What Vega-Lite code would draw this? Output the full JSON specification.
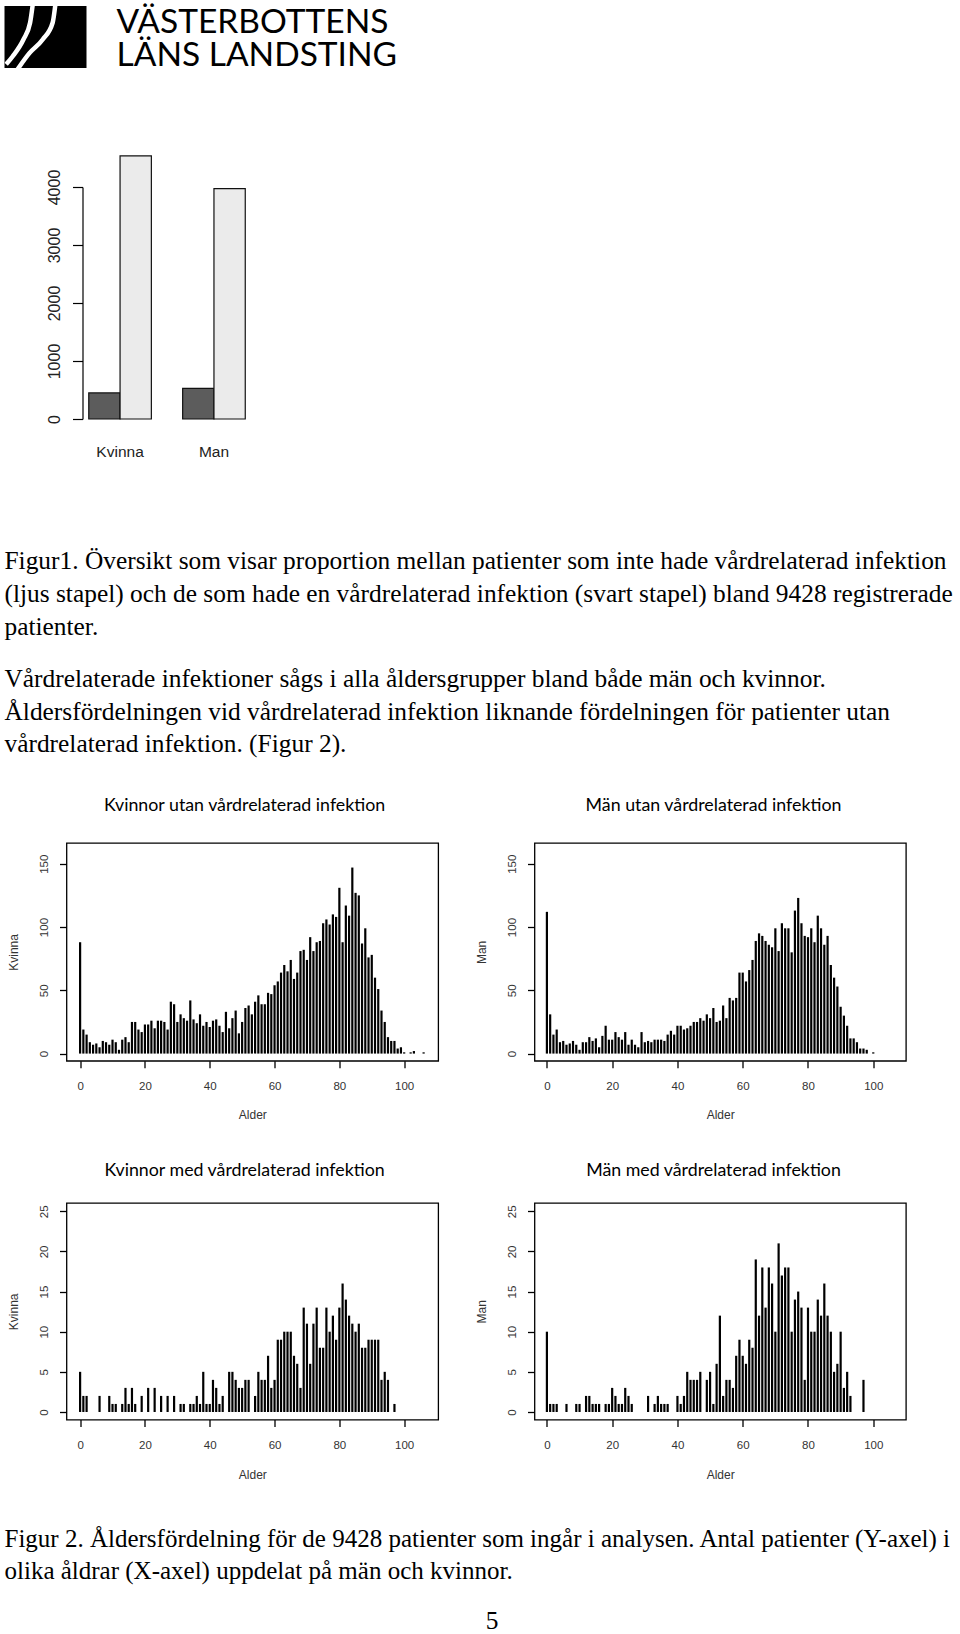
{
  "$schema": "https://vega.github.io/schema/vega-lite/v6.json",
  "background": "white",
  "padding": {"left": 4.5, "top": 5, "right": 0, "bottom": 0},
  "config": {
    "view": {"stroke": null},
    "axis": {"grid": false, "labelFont": "Liberation Sans", "titleFont": "Liberation Sans", "labelFlush": false, "labelOverlap": false, "tickColor": "black", "domainColor": "black", "titleFontWeight": "normal"},
    "title": {"font": "Lato", "fontSize": 17.8, "fontWeight": "normal", "color": "black", "frame": "group", "anchor": "middle"}
  },
  "datasets": {
    "staplar": [
      {"kon": "Kvinna", "grupp": "med", "antal": 449},
      {"kon": "Kvinna", "grupp": "utan", "antal": 4535},
      {"kon": "Man", "grupp": "med", "antal": 529},
      {"kon": "Man", "grupp": "utan", "antal": 3972}
    ],
    "logo": [
      {"kurva": "a", "u": 0.344, "v": 1.02}, {"kurva": "a", "u": 0.312, "v": 0.73}, {"kurva": "a", "u": 0.231, "v": 0.46}, {"kurva": "a", "u": 0.101, "v": 0.19}, {"kurva": "a", "u": 0.02, "v": 0.06},
      {"kurva": "b", "u": 0.62, "v": 1.02}, {"kurva": "b", "u": 0.587, "v": 0.73}, {"kurva": "b", "u": 0.466, "v": 0.46}, {"kurva": "b", "u": 0.304, "v": 0.24}, {"kurva": "b", "u": 0.16, "v": -0.02}
    ],
    "kvinnor_utan": [
      {"alder":0,"antal":88},{"alder":1,"antal":19},{"alder":2,"antal":15},{"alder":3,"antal":9},{"alder":4,"antal":7},{"alder":5,"antal":8},{"alder":6,"antal":5},{"alder":7,"antal":10},{"alder":8,"antal":9},{"alder":9,"antal":7},
      {"alder":10,"antal":11},{"alder":11,"antal":9},{"alder":12,"antal":3},{"alder":13,"antal":11},{"alder":14,"antal":13},{"alder":15,"antal":9},{"alder":16,"antal":25},{"alder":17,"antal":25},{"alder":18,"antal":19},{"alder":19,"antal":17},
      {"alder":20,"antal":23},{"alder":21,"antal":23},{"alder":22,"antal":26},{"alder":23,"antal":20},{"alder":24,"antal":26},{"alder":25,"antal":26},{"alder":26,"antal":25},{"alder":27,"antal":19},{"alder":28,"antal":41},{"alder":29,"antal":39},
      {"alder":30,"antal":25},{"alder":31,"antal":31},{"alder":32,"antal":28},{"alder":33,"antal":26},{"alder":34,"antal":42},{"alder":35,"antal":27},{"alder":36,"antal":24},{"alder":37,"antal":31},{"alder":38,"antal":22},{"alder":39,"antal":25},
      {"alder":40,"antal":21},{"alder":41,"antal":26},{"alder":42,"antal":27},{"alder":43,"antal":22},{"alder":44,"antal":17},{"alder":45,"antal":33},{"alder":46,"antal":20},{"alder":47,"antal":28},{"alder":48,"antal":34},{"alder":49,"antal":16},
      {"alder":50,"antal":25},{"alder":51,"antal":36},{"alder":52,"antal":38},{"alder":53,"antal":31},{"alder":54,"antal":41},{"alder":55,"antal":46},{"alder":56,"antal":39},{"alder":57,"antal":39},{"alder":58,"antal":48},{"alder":59,"antal":47},
      {"alder":60,"antal":54},{"alder":61,"antal":57},{"alder":62,"antal":64},{"alder":63,"antal":70},{"alder":64,"antal":65},{"alder":65,"antal":74},{"alder":66,"antal":59},{"alder":67,"antal":64},{"alder":68,"antal":81},{"alder":69,"antal":82},
      {"alder":70,"antal":74},{"alder":71,"antal":92},{"alder":72,"antal":81},{"alder":73,"antal":88},{"alder":74,"antal":89},{"alder":75,"antal":103},{"alder":76,"antal":106},{"alder":77,"antal":102},{"alder":78,"antal":110},{"alder":79,"antal":108},
      {"alder":80,"antal":131},{"alder":81,"antal":88},{"alder":82,"antal":117},{"alder":83,"antal":109},{"alder":84,"antal":147},{"alder":85,"antal":127},{"alder":86,"antal":125},{"alder":87,"antal":87},{"alder":88,"antal":99},{"alder":89,"antal":76},
      {"alder":90,"antal":78},{"alder":91,"antal":60},{"alder":92,"antal":51},{"alder":93,"antal":34},{"alder":94,"antal":25},{"alder":95,"antal":13},{"alder":96,"antal":10},{"alder":97,"antal":10},{"alder":98,"antal":4},{"alder":99,"antal":5},
      {"alder":100,"antal":1},{"alder":102,"antal":1},{"alder":103,"antal":2},{"alder":106,"antal":1}
    ],
    "man_utan": [
      {"alder":0,"antal":112},{"alder":1,"antal":31},{"alder":2,"antal":15},{"alder":3,"antal":19},{"alder":4,"antal":9},{"alder":5,"antal":10},{"alder":6,"antal":7},{"alder":7,"antal":8},{"alder":8,"antal":10},{"alder":9,"antal":7},
      {"alder":10,"antal":3},{"alder":11,"antal":9},{"alder":12,"antal":9},{"alder":13,"antal":13},{"alder":14,"antal":10},{"alder":15,"antal":12},{"alder":16,"antal":5},{"alder":17,"antal":14},{"alder":18,"antal":22},{"alder":19,"antal":11},
      {"alder":20,"antal":11},{"alder":21,"antal":17},{"alder":22,"antal":13},{"alder":23,"antal":11},{"alder":24,"antal":17},{"alder":25,"antal":7},{"alder":26,"antal":11},{"alder":27,"antal":7},{"alder":28,"antal":5},{"alder":29,"antal":17},
      {"alder":30,"antal":9},{"alder":31,"antal":10},{"alder":32,"antal":9},{"alder":33,"antal":11},{"alder":34,"antal":11},{"alder":35,"antal":11},{"alder":36,"antal":10},{"alder":37,"antal":15},{"alder":38,"antal":18},{"alder":39,"antal":15},
      {"alder":40,"antal":22},{"alder":41,"antal":22},{"alder":42,"antal":19},{"alder":43,"antal":20},{"alder":44,"antal":22},{"alder":45,"antal":25},{"alder":46,"antal":25},{"alder":47,"antal":28},{"alder":48,"antal":26},{"alder":49,"antal":31},
      {"alder":50,"antal":28},{"alder":51,"antal":36},{"alder":52,"antal":25},{"alder":53,"antal":26},{"alder":54,"antal":38},{"alder":55,"antal":28},{"alder":56,"antal":44},{"alder":57,"antal":42},{"alder":58,"antal":44},{"alder":59,"antal":64},
      {"alder":60,"antal":64},{"alder":61,"antal":57},{"alder":62,"antal":66},{"alder":63,"antal":74},{"alder":64,"antal":89},{"alder":65,"antal":95},{"alder":66,"antal":93},{"alder":67,"antal":89},{"alder":68,"antal":86},{"alder":69,"antal":84},
      {"alder":70,"antal":99},{"alder":71,"antal":81},{"alder":72,"antal":103},{"alder":73,"antal":99},{"alder":74,"antal":99},{"alder":75,"antal":80},{"alder":76,"antal":113},{"alder":77,"antal":123},{"alder":78,"antal":103},{"alder":79,"antal":93},
      {"alder":80,"antal":92},{"alder":81,"antal":99},{"alder":82,"antal":88},{"alder":83,"antal":109},{"alder":84,"antal":99},{"alder":85,"antal":86},{"alder":86,"antal":93},{"alder":87,"antal":70},{"alder":88,"antal":60},{"alder":89,"antal":53},
      {"alder":90,"antal":37},{"alder":91,"antal":30},{"alder":92,"antal":22},{"alder":93,"antal":12},{"alder":94,"antal":12},{"alder":95,"antal":9},{"alder":96,"antal":4},{"alder":97,"antal":4},{"alder":98,"antal":3},{"alder":100,"antal":1}
    ],
    "kvinnor_med": [
      {"alder":0,"antal":5},{"alder":1,"antal":2},{"alder":2,"antal":2},{"alder":6,"antal":2},{"alder":9,"antal":2},{"alder":10,"antal":1},{"alder":11,"antal":1},{"alder":13,"antal":1},{"alder":14,"antal":3},{"alder":15,"antal":1},
      {"alder":16,"antal":3},{"alder":17,"antal":1},{"alder":19,"antal":2},{"alder":21,"antal":3},{"alder":23,"antal":3},{"alder":25,"antal":2},{"alder":27,"antal":2},{"alder":29,"antal":2},{"alder":31,"antal":1},{"alder":32,"antal":1},
      {"alder":34,"antal":1},{"alder":35,"antal":1},{"alder":36,"antal":2},{"alder":37,"antal":1},{"alder":38,"antal":5},{"alder":39,"antal":1},{"alder":40,"antal":1},{"alder":41,"antal":4},{"alder":42,"antal":3},{"alder":43,"antal":1},
      {"alder":44,"antal":2},{"alder":46,"antal":5},{"alder":47,"antal":5},{"alder":48,"antal":4},{"alder":49,"antal":3},{"alder":50,"antal":3},{"alder":51,"antal":4},{"alder":52,"antal":4},{"alder":54,"antal":2},{"alder":55,"antal":5},
      {"alder":56,"antal":4},{"alder":57,"antal":4},{"alder":58,"antal":7},{"alder":59,"antal":3},{"alder":60,"antal":4},{"alder":61,"antal":9},{"alder":62,"antal":9},{"alder":63,"antal":10},{"alder":64,"antal":10},{"alder":65,"antal":10},
      {"alder":66,"antal":7},{"alder":67,"antal":6},{"alder":68,"antal":3},{"alder":69,"antal":13},{"alder":70,"antal":11},{"alder":71,"antal":6},{"alder":72,"antal":11},{"alder":73,"antal":13},{"alder":74,"antal":8},{"alder":75,"antal":8},
      {"alder":76,"antal":13},{"alder":77,"antal":10},{"alder":78,"antal":12},{"alder":79,"antal":9},{"alder":80,"antal":13},{"alder":81,"antal":16},{"alder":82,"antal":14},{"alder":83,"antal":12},{"alder":84,"antal":11},{"alder":85,"antal":10},
      {"alder":86,"antal":11},{"alder":87,"antal":8},{"alder":88,"antal":8},{"alder":89,"antal":9},{"alder":90,"antal":9},{"alder":91,"antal":9},{"alder":92,"antal":9},{"alder":93,"antal":4},{"alder":94,"antal":5},{"alder":95,"antal":4},
      {"alder":97,"antal":1}
    ],
    "man_med": [
      {"alder":0,"antal":10},{"alder":1,"antal":1},{"alder":2,"antal":1},{"alder":3,"antal":1},{"alder":6,"antal":1},{"alder":9,"antal":1},{"alder":10,"antal":1},{"alder":12,"antal":2},{"alder":13,"antal":2},{"alder":14,"antal":1},
      {"alder":15,"antal":1},{"alder":16,"antal":1},{"alder":18,"antal":1},{"alder":19,"antal":1},{"alder":20,"antal":3},{"alder":21,"antal":2},{"alder":22,"antal":1},{"alder":23,"antal":1},{"alder":24,"antal":3},{"alder":25,"antal":2},
      {"alder":26,"antal":1},{"alder":31,"antal":2},{"alder":33,"antal":1},{"alder":34,"antal":2},{"alder":35,"antal":1},{"alder":36,"antal":1},{"alder":37,"antal":1},{"alder":40,"antal":2},{"alder":41,"antal":1},{"alder":42,"antal":2},
      {"alder":43,"antal":5},{"alder":44,"antal":4},{"alder":45,"antal":4},{"alder":46,"antal":4},{"alder":47,"antal":5},{"alder":49,"antal":4},{"alder":50,"antal":5},{"alder":51,"antal":1},{"alder":52,"antal":6},{"alder":53,"antal":12},
      {"alder":54,"antal":2},{"alder":55,"antal":4},{"alder":56,"antal":4},{"alder":57,"antal":3},{"alder":58,"antal":7},{"alder":59,"antal":9},{"alder":60,"antal":7},{"alder":61,"antal":6},{"alder":62,"antal":9},{"alder":63,"antal":8},
      {"alder":64,"antal":19},{"alder":65,"antal":12},{"alder":66,"antal":18},{"alder":67,"antal":13},{"alder":68,"antal":18},{"alder":69,"antal":16},{"alder":70,"antal":10},{"alder":71,"antal":21},{"alder":72,"antal":17},{"alder":73,"antal":18},
      {"alder":74,"antal":18},{"alder":75,"antal":10},{"alder":76,"antal":14},{"alder":77,"antal":15},{"alder":78,"antal":13},{"alder":79,"antal":4},{"alder":80,"antal":13},{"alder":81,"antal":10},{"alder":82,"antal":10},{"alder":83,"antal":14},
      {"alder":84,"antal":12},{"alder":85,"antal":16},{"alder":86,"antal":12},{"alder":87,"antal":10},{"alder":88,"antal":5},{"alder":89,"antal":6},{"alder":90,"antal":10},{"alder":91,"antal":3},{"alder":92,"antal":5},{"alder":93,"antal":2},
      {"alder":97,"antal":4}
    ]
  },
  "columns": 4,
  "align": "each",
  "bounds": "flush",
  "spacing": 0,
  "concat": [
    {
      "width": 62, "height": 62,
      "layer": [
        {
          "data": {"values": [{"del": "block"}]},
          "mark": {"type": "rect", "color": "black"},
          "encoding": {
            "x": {"datum": 0, "type": "quantitative", "scale": {"domain": [0, 0.7561], "nice": false, "zero": false}, "axis": null},
            "x2": {"datum": 1},
            "y": {"datum": 0, "type": "quantitative", "scale": {"domain": [0, 1], "nice": false, "zero": false}, "axis": null},
            "y2": {"datum": 1}
          }
        },
        {
          "data": {"name": "logo"},
          "mark": {"type": "line", "color": "white", "strokeWidth": 4.5, "interpolate": "monotone", "strokeJoin": "round", "clip": true},
          "encoding": {
            "x": {"field": "u", "type": "quantitative", "scale": {"domain": [0, 0.7561], "nice": false, "zero": false}, "axis": null},
            "y": {"field": "v", "type": "quantitative", "scale": {"domain": [0, 1], "nice": false, "zero": false}, "axis": null},
            "detail": {"field": "kurva"}
          }
        }
      ]
    },
    {
      "width": 300, "height": 62,
      "data": {"values": [{"rad": 1, "text": "VÄSTERBOTTENS"}, {"rad": 2, "text": "LÄNS LANDSTING"}]},
      "mark": {"type": "text", "align": "left", "baseline": "alphabetic", "font": "Lato", "fontSize": 33.5, "fontWeight": "normal", "color": "black"},
      "encoding": {
        "x": {"datum": 0.16667, "type": "quantitative", "scale": {"domain": [0, 1], "nice": false, "zero": false}, "axis": null},
        "y": {"field": "rad", "type": "ordinal", "scale": {"type": "point", "padding": 0.4394, "align": 0.931}, "axis": null},
        "text": {"field": "text"}
      }
    },
    {"width": 1, "height": 181, "data": {"values": []}, "mark": "point", "encoding": {}},
    {"width": 1, "height": 1, "data": {"values": []}, "mark": "point", "encoding": {}},

    {"width": 1, "height": 382, "data": {"values": []}, "mark": "point", "encoding": {}},
    {
      "width": 185, "height": 232,
      "data": {"name": "staplar"},
      "mark": {"type": "bar", "stroke": "#111111", "strokeWidth": 1.2},
      "encoding": {
        "x": {"field": "kon", "type": "nominal", "sort": ["Kvinna", "Man"], "scale": {"paddingInner": 0.3333, "paddingOuter": 0.1518, "align": 0.781},
              "axis": {"title": null, "domain": false, "ticks": false, "tickSize": 0, "labelAngle": 0, "labelFontSize": 15.5, "labelColor": "#222222", "labelPadding": 32.5, "labelBaseline": "middle"}},
        "xOffset": {"field": "grupp", "type": "nominal", "sort": ["med", "utan"], "scale": {"paddingInner": 0, "paddingOuter": 0}},
        "y": {"field": "antal", "type": "quantitative", "scale": {"domain": [0, 4000], "nice": false},
              "axis": {"title": null, "values": [0, 1000, 2000, 3000, 4000], "format": "d", "offset": -16, "domain": true, "domainWidth": 1.2, "tickSize": 10, "tickWidth": 1.2, "labelAngle": -90, "labelAlign": "center", "labelBaseline": "middle", "labelPadding": 17.8, "labelFontSize": 16, "labelColor": "#222222"}},
        "color": {"field": "grupp", "type": "nominal", "sort": ["med", "utan"], "scale": {"range": ["#5c5c5c", "#ebebeb"]}, "legend": null}
      }
    },
    {"width": 1, "height": 1, "data": {"values": []}, "mark": "point", "encoding": {}},
    {"width": 1, "height": 1, "data": {"values": []}, "mark": "point", "encoding": {}},

    {
      "width": 1, "height": 66,
      "data": {"values": [
        {"rad": 1, "text": "Figur1. Översikt som visar proportion mellan patienter som inte hade vårdrelaterad infektion"},
        {"rad": 2, "text": "(ljus stapel) och de som hade en vårdrelaterad infektion (svart stapel) bland 9428 registrerade"},
        {"rad": 3, "text": "patienter."}
      ]},
      "mark": {"type": "text", "align": "left", "baseline": "alphabetic", "font": "Liberation Serif", "fontSize": 25.4, "color": "black"},
      "encoding": {
        "x": {"datum": 0, "type": "quantitative", "scale": {"domain": [0, 1], "nice": false, "zero": false}, "axis": null},
        "y": {"field": "rad", "type": "ordinal", "scale": {"type": "point", "padding": 0}, "axis": null},
        "text": {"field": "text"}
      }
    },
    {"width": 1, "height": 118, "data": {"values": []}, "mark": "point", "encoding": {}},
    {"width": 1, "height": 1, "data": {"values": []}, "mark": "point", "encoding": {}},
    {"width": 1, "height": 1, "data": {"values": []}, "mark": "point", "encoding": {}},

    {
      "width": 1, "height": 65,
      "data": {"values": [
        {"rad": 1, "text": "Vårdrelaterade infektioner sågs i alla åldersgrupper bland både män och kvinnor."},
        {"rad": 2, "text": "Åldersfördelningen vid vårdrelaterad infektion liknande fördelningen för patienter utan"},
        {"rad": 3, "text": "vårdrelaterad infektion. (Figur 2)."}
      ]},
      "mark": {"type": "text", "align": "left", "baseline": "alphabetic", "font": "Liberation Serif", "fontSize": 25.4, "color": "black"},
      "encoding": {
        "x": {"datum": 0, "type": "quantitative", "scale": {"domain": [0, 1], "nice": false, "zero": false}, "axis": null},
        "y": {"field": "rad", "type": "ordinal", "scale": {"type": "point", "padding": 0}, "axis": null},
        "text": {"field": "text"}
      }
    },
    {"width": 1, "height": 156, "data": {"values": []}, "mark": "point", "encoding": {}},
    {"width": 1, "height": 1, "data": {"values": []}, "mark": "point", "encoding": {}},
    {"width": 1, "height": 1, "data": {"values": []}, "mark": "point", "encoding": {}},

    {"width": 62, "height": 360, "data": {"values": []}, "mark": "point", "encoding": {}},
    {
      "width": 371.7, "height": 217.8,
      "view": {"stroke": "black", "strokeWidth": 1.3},
      "title": {"text": "Kvinnor utan vårdrelaterad infektion", "offset": 28.7, "dx": -7.7},
      "data": {"name": "kvinnor_utan"},
      "mark": {"type": "rule", "color": "black", "strokeWidth": 2.2},
      "encoding": {
        "x": {"field": "alder", "type": "quantitative", "scale": {"domain": [-4.2, 110.5], "nice": false, "zero": false},
              "axis": {"title": "Alder", "values": [0, 20, 40, 60, 80, 100], "domain": false, "tickSize": 7, "tickWidth": 1.3, "labelFontSize": 11.5, "labelColor": "#333333", "labelPadding": 18.5, "labelBaseline": "middle", "labelAngle": 0, "titleFontSize": 12, "titleColor": "#333333", "titleX": 185.85, "titleY": 54, "titleBaseline": "middle", "titleAlign": "center", "titleAngle": 0}},
        "y": {"field": "antal", "type": "quantitative", "scale": {"domain": [-5.7, 166.4], "nice": false, "zero": false},
              "axis": {"title": "Kvinna", "values": [0, 50, 100, 150], "domain": false, "tickSize": 7, "tickWidth": 1.3, "labelFontSize": 11.5, "labelColor": "#333333", "labelPadding": 15.2, "labelAngle": -90, "labelAlign": "center", "labelBaseline": "middle", "titleFontSize": 12, "titleColor": "#333333", "titleX": -53, "titleY": 108.9, "titleAngle": -90, "titleBaseline": "middle", "titleAlign": "center"}},
        "y2": {"datum": 0}
      }
    },
    {"width": 96, "height": 1, "data": {"values": []}, "mark": "point", "encoding": {}},
    {
      "width": 371.4, "height": 217.8,
      "view": {"stroke": "black", "strokeWidth": 1.3},
      "title": {"text": "Män utan vårdrelaterad infektion", "offset": 28.7, "dx": -6.7},
      "data": {"name": "man_utan"},
      "mark": {"type": "rule", "color": "black", "strokeWidth": 2.2},
      "encoding": {
        "x": {"field": "alder", "type": "quantitative", "scale": {"domain": [-3.8, 110.0], "nice": false, "zero": false},
              "axis": {"title": "Alder", "values": [0, 20, 40, 60, 80, 100], "domain": false, "tickSize": 7, "tickWidth": 1.3, "labelFontSize": 11.5, "labelColor": "#333333", "labelPadding": 18.5, "labelBaseline": "middle", "labelAngle": 0, "titleFontSize": 12, "titleColor": "#333333", "titleX": 185.7, "titleY": 54, "titleBaseline": "middle", "titleAlign": "center", "titleAngle": 0}},
        "y": {"field": "antal", "type": "quantitative", "scale": {"domain": [-5.7, 166.4], "nice": false, "zero": false},
              "axis": {"title": "Man", "values": [0, 50, 100, 150], "domain": false, "tickSize": 7, "tickWidth": 1.3, "labelFontSize": 11.5, "labelColor": "#333333", "labelPadding": 14.6, "labelAngle": -90, "labelAlign": "center", "labelBaseline": "middle", "titleFontSize": 12, "titleColor": "#333333", "titleX": -52.6, "titleY": 108.9, "titleAngle": -90, "titleBaseline": "middle", "titleAlign": "center"}},
        "y2": {"datum": 0}
      }
    },

    {"width": 62, "height": 344, "data": {"values": []}, "mark": "point", "encoding": {}},
    {
      "width": 371.7, "height": 216.6,
      "view": {"stroke": "black", "strokeWidth": 1.3},
      "title": {"text": "Kvinnor med vårdrelaterad infektion", "offset": 23, "dx": -7.7},
      "data": {"name": "kvinnor_med"},
      "mark": {"type": "rule", "color": "black", "strokeWidth": 2.2},
      "encoding": {
        "x": {"field": "alder", "type": "quantitative", "scale": {"domain": [-4.2, 110.5], "nice": false, "zero": false},
              "axis": {"title": "Alder", "values": [0, 20, 40, 60, 80, 100], "domain": false, "tickSize": 7, "tickWidth": 1.3, "labelFontSize": 11.5, "labelColor": "#333333", "labelPadding": 18.5, "labelBaseline": "middle", "labelAngle": 0, "titleFontSize": 12, "titleColor": "#333333", "titleX": 185.85, "titleY": 54.5, "titleBaseline": "middle", "titleAlign": "center", "titleAngle": 0}},
        "y": {"field": "antal", "type": "quantitative", "scale": {"domain": [-0.95, 26.03], "nice": false, "zero": false},
              "axis": {"title": "Kvinna", "values": [0, 5, 10, 15, 20, 25], "domain": false, "tickSize": 7, "tickWidth": 1.3, "labelFontSize": 11.5, "labelColor": "#333333", "labelPadding": 15.2, "labelAngle": -90, "labelAlign": "center", "labelBaseline": "middle", "titleFontSize": 12, "titleColor": "#333333", "titleX": -53, "titleY": 108.3, "titleAngle": -90, "titleBaseline": "middle", "titleAlign": "center"}},
        "y2": {"datum": 0}
      }
    },
    {"width": 96, "height": 1, "data": {"values": []}, "mark": "point", "encoding": {}},
    {
      "width": 371.4, "height": 216.6,
      "view": {"stroke": "black", "strokeWidth": 1.3},
      "title": {"text": "Män med vårdrelaterad infektion", "offset": 23, "dx": -6.7},
      "data": {"name": "man_med"},
      "mark": {"type": "rule", "color": "black", "strokeWidth": 2.2},
      "encoding": {
        "x": {"field": "alder", "type": "quantitative", "scale": {"domain": [-3.8, 110.0], "nice": false, "zero": false},
              "axis": {"title": "Alder", "values": [0, 20, 40, 60, 80, 100], "domain": false, "tickSize": 7, "tickWidth": 1.3, "labelFontSize": 11.5, "labelColor": "#333333", "labelPadding": 18.5, "labelBaseline": "middle", "labelAngle": 0, "titleFontSize": 12, "titleColor": "#333333", "titleX": 185.7, "titleY": 54.5, "titleBaseline": "middle", "titleAlign": "center", "titleAngle": 0}},
        "y": {"field": "antal", "type": "quantitative", "scale": {"domain": [-0.95, 26.03], "nice": false, "zero": false},
              "axis": {"title": "Man", "values": [0, 5, 10, 15, 20, 25], "domain": false, "tickSize": 7, "tickWidth": 1.3, "labelFontSize": 11.5, "labelColor": "#333333", "labelPadding": 14.6, "labelAngle": -90, "labelAlign": "center", "labelBaseline": "middle", "titleFontSize": 12, "titleColor": "#333333", "titleX": -52.6, "titleY": 108.3, "titleAngle": -90, "titleBaseline": "middle", "titleAlign": "center"}},
        "y2": {"datum": 0}
      }
    },

    {
      "width": 1, "height": 32.3,
      "data": {"values": [
        {"rad": 1, "text": "Figur 2. Åldersfördelning för de 9428 patienter som ingår i analysen. Antal patienter (Y-axel) i"},
        {"rad": 2, "text": "olika åldrar (X-axel) uppdelat på män och kvinnor."}
      ]},
      "mark": {"type": "text", "align": "left", "baseline": "alphabetic", "font": "Liberation Serif", "fontSize": 25.0, "color": "black"},
      "encoding": {
        "x": {"datum": 0, "type": "quantitative", "scale": {"domain": [0, 1], "nice": false, "zero": false}, "axis": null},
        "y": {"field": "rad", "type": "ordinal", "scale": {"type": "point", "padding": 0}, "axis": null},
        "text": {"field": "text"}
      }
    },
    {"width": 1, "height": 82, "data": {"values": []}, "mark": "point", "encoding": {}},
    {"width": 1, "height": 1, "data": {"values": []}, "mark": "point", "encoding": {}},
    {"width": 1, "height": 1, "data": {"values": []}, "mark": "point", "encoding": {}},

    {"width": 1, "height": 1, "data": {"values": []}, "mark": "point", "encoding": {}},
    {"width": 1, "height": 1, "data": {"values": []}, "mark": "point", "encoding": {}},
    {
      "width": 96, "height": 1,
      "data": {"values": [{"sida": "5"}]},
      "mark": {"type": "text", "align": "center", "baseline": "alphabetic", "font": "Liberation Serif", "fontSize": 25.4, "color": "black"},
      "encoding": {
        "x": {"datum": 0.5573, "type": "quantitative", "scale": {"domain": [0, 1], "nice": false, "zero": false}, "axis": null},
        "y": {"datum": 1, "type": "quantitative", "scale": {"domain": [0, 1], "nice": false, "zero": false}, "axis": null},
        "text": {"field": "sida"}
      }
    },
    {"width": 1, "height": 1, "data": {"values": []}, "mark": "point", "encoding": {}}
  ]
}
